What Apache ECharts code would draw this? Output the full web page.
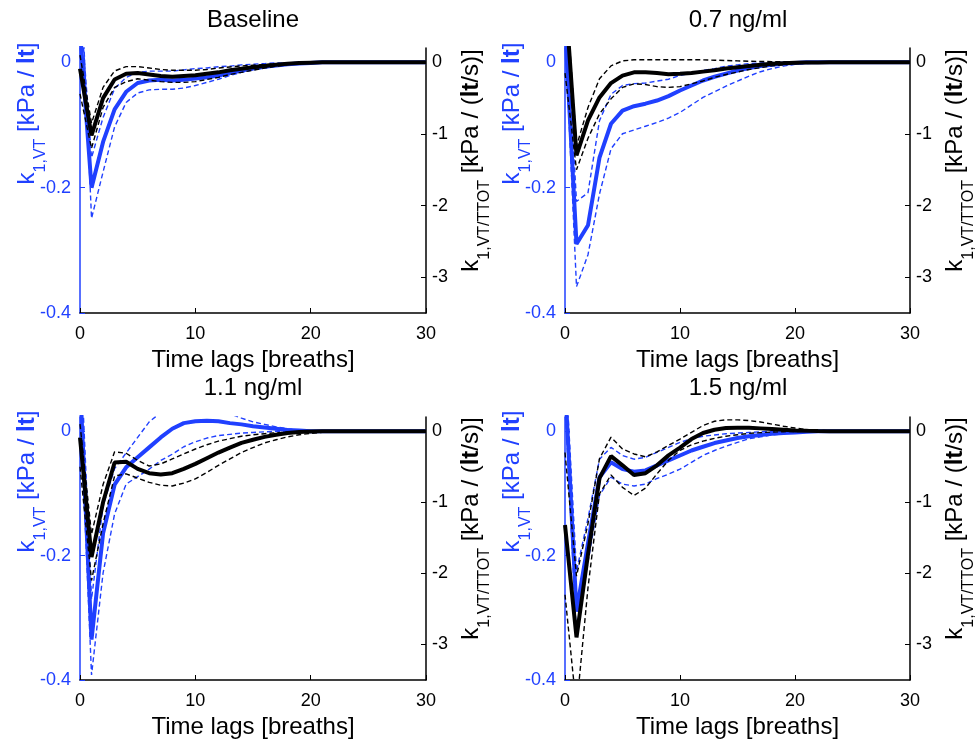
<!DOCTYPE html>
<html>
<head>
<meta charset="utf-8">
<script src="https://cdn.jsdelivr.net/npm/echarts@6/dist/echarts.min.js"></script>
<style>
html,body{margin:0;padding:0;background:#fff;}
#chart{width:978px;height:743px;}
</style>
</head>
<body>
<div id="chart"></div>
<script>
// ---------------- data ----------------
const titles = ['Baseline', '0.7 ng/ml', '1.1 ng/ml', '1.5 ng/ml'];
const lags = [0,1,2,3,4,5,6,7,8,9,10,11,12,13,14,15,16,17,18,19,20,21,22,23,24,25,26,27,28,29,30];
const xTicks = [0, 10, 20, 30];
const leftTicks = [-0.4, -0.2, 0];
const rightTicks = [-3, -2, -1, 0];

// Baseline — k1,VT (left axis, blue)
const baseBlue   = [0.05,-0.200,-0.127,-0.075,-0.047,-0.033,-0.029,-0.028,-0.029,-0.028,-0.026,-0.024,-0.021,-0.017,-0.013,-0.010,-0.007,-0.005,-0.003,-0.002,-0.001,0,0,0,0,0,0,0,0,0,0];
const baseBlueHi = [0.10,-0.152,-0.088,-0.042,-0.024,-0.016,-0.014,-0.014,-0.014,-0.012,-0.010,-0.009,-0.007,-0.006,-0.004,-0.003,-0.002,-0.001,-0.001,0,0,0,0,0,0,0,0,0,0,0,0];
const baseBlueLo = [0.17,-0.249,-0.175,-0.103,-0.064,-0.049,-0.044,-0.043,-0.043,-0.041,-0.037,-0.032,-0.027,-0.021,-0.016,-0.012,-0.009,-0.006,-0.004,-0.002,-0.001,0,0,0,0,0,0,0,0,0,0];
// Baseline — k1,VT/TTOT (right axis, black)
const baseBlack   = [-0.09,-1.02,-0.50,-0.24,-0.16,-0.15,-0.17,-0.19,-0.20,-0.19,-0.18,-0.16,-0.14,-0.11,-0.09,-0.07,-0.05,-0.035,-0.02,-0.01,-0.005,0,0,0,0,0,0,0,0,0,0];
const baseBlackHi = [0.10,-0.85,-0.35,-0.12,-0.06,-0.06,-0.08,-0.10,-0.11,-0.11,-0.11,-0.10,-0.08,-0.065,-0.05,-0.04,-0.03,-0.02,-0.01,-0.005,0,0,0,0,0,0,0,0,0,0,0];
const baseBlackLo = [-0.44,-1.20,-0.63,-0.35,-0.27,-0.23,-0.25,-0.27,-0.28,-0.28,-0.27,-0.24,-0.21,-0.17,-0.14,-0.11,-0.08,-0.055,-0.03,-0.015,-0.01,-0.005,0,0,0,0,0,0,0,0,0];

// 0.7 ng/ml
const c07Blue   = [0.06,-0.290,-0.260,-0.152,-0.098,-0.077,-0.070,-0.066,-0.061,-0.054,-0.045,-0.037,-0.029,-0.023,-0.018,-0.013,-0.009,-0.006,-0.004,-0.002,-0.001,0,0,0,0,0,0,0,0,0,0];
const c07BlueHi = [0.10,-0.222,-0.208,-0.093,-0.051,-0.037,-0.034,-0.033,-0.030,-0.027,-0.021,-0.017,-0.013,-0.010,-0.006,-0.004,-0.002,-0.001,0,0,0,0,0,0,0,0,0,0,0,0,0];
const c07BlueLo = [0.05,-0.358,-0.307,-0.210,-0.138,-0.114,-0.108,-0.102,-0.096,-0.089,-0.080,-0.068,-0.056,-0.047,-0.038,-0.030,-0.022,-0.015,-0.010,-0.006,-0.003,-0.002,-0.001,0,0,0,0,0,0,0,0];
const c07Black   = [1.0,-1.30,-0.81,-0.49,-0.29,-0.185,-0.14,-0.14,-0.15,-0.165,-0.16,-0.15,-0.13,-0.11,-0.085,-0.07,-0.05,-0.035,-0.02,-0.012,-0.006,-0.003,-0.001,0,0,0,0,0,0,0,0];
const c07BlackHi = [1.2,-1.17,-0.63,-0.23,-0.05,0.02,0.035,0.035,0.035,0.035,0.035,0.035,0.035,0.03,0.025,0.02,0.015,0.012,0.01,0.006,0.003,0.001,0,0,0,0,0,0,0,0,0];
const c07BlackLo = [-0.15,-1.50,-1.06,-0.72,-0.51,-0.35,-0.30,-0.31,-0.34,-0.35,-0.34,-0.30,-0.26,-0.21,-0.17,-0.135,-0.10,-0.075,-0.05,-0.035,-0.02,-0.012,-0.006,-0.003,-0.001,0,0,0,0,0,0];

// 1.1 ng/ml
const c11Blue   = [0.08,-0.335,-0.164,-0.086,-0.058,-0.042,-0.026,-0.010,0.004,0.013,0.016,0.017,0.016,0.013,0.011,0.008,0.006,0.004,0.002,0.001,0,0,0,0,0,0,0,0,0,0,0];
const c11BlueHi = [0.15,-0.270,-0.120,-0.060,-0.035,-0.010,0.015,0.030,0.040,0.045,0.045,0.042,0.036,0.028,0.021,0.015,0.011,0.007,0.004,0.002,0.001,0,0,0,0,0,0,0,0,0,0];
const c11BlueLo = [0.05,-0.392,-0.228,-0.133,-0.085,-0.073,-0.061,-0.047,-0.037,-0.025,-0.017,-0.011,-0.007,-0.005,-0.003,-0.002,-0.001,0,0,0,0,0,0,0,0,0,0,0,0,0,0];
const c11Black   = [-0.09,-1.77,-1.00,-0.44,-0.43,-0.53,-0.59,-0.61,-0.59,-0.53,-0.46,-0.38,-0.30,-0.23,-0.165,-0.12,-0.08,-0.05,-0.025,-0.012,-0.005,-0.002,0,0,0,0,0,0,0,0,0];
const c11BlackHi = [0.10,-1.45,-0.75,-0.29,-0.31,-0.41,-0.49,-0.46,-0.39,-0.32,-0.25,-0.19,-0.14,-0.105,-0.07,-0.05,-0.035,-0.022,-0.012,-0.006,-0.003,0,0,0,0,0,0,0,0,0,0];
const c11BlackLo = [-0.50,-2.10,-1.30,-0.63,-0.60,-0.66,-0.72,-0.76,-0.77,-0.73,-0.67,-0.58,-0.48,-0.39,-0.30,-0.23,-0.165,-0.12,-0.08,-0.05,-0.03,-0.015,-0.007,-0.003,0,0,0,0,0,0,0];

// 1.5 ng/ml
const c15Blue   = [0.08,-0.290,-0.180,-0.074,-0.050,-0.061,-0.065,-0.063,-0.055,-0.047,-0.039,-0.031,-0.025,-0.019,-0.015,-0.011,-0.008,-0.006,-0.004,-0.003,-0.002,-0.001,0,0,0,0,0,0,0,0,0];
const c15BlueHi = [0.12,-0.225,-0.140,-0.045,-0.026,-0.039,-0.045,-0.042,-0.034,-0.026,-0.018,-0.012,-0.008,-0.006,-0.004,-0.003,-0.002,-0.001,0,0,0,0,0,0,0,0,0,0,0,0,0];
const c15BlueLo = [0.05,-0.330,-0.210,-0.103,-0.074,-0.085,-0.088,-0.085,-0.076,-0.069,-0.061,-0.050,-0.039,-0.031,-0.024,-0.018,-0.012,-0.009,-0.006,-0.004,-0.002,-0.001,0,0,0,0,0,0,0,0,0];
const c15Black   = [-1.32,-2.90,-1.73,-0.66,-0.35,-0.48,-0.615,-0.59,-0.48,-0.34,-0.23,-0.11,-0.025,0.02,0.045,0.05,0.05,0.04,0.03,0.02,0.01,0.005,0.002,0,0,0,0,0,0,0,0];
const c15BlackHi = [-0.30,-2.04,-1.30,-0.385,-0.083,-0.25,-0.32,-0.36,-0.29,-0.20,-0.11,-0.015,0.08,0.14,0.16,0.16,0.15,0.13,0.10,0.07,0.045,0.025,0.012,0.005,0.002,0,0,0,0,0,0];
const c15BlackLo = [-2.30,-3.90,-2.20,-0.88,-0.615,-0.79,-0.905,-0.80,-0.60,-0.41,-0.27,-0.19,-0.14,-0.10,-0.07,-0.05,-0.03,-0.02,-0.012,-0.007,-0.004,-0.002,0,0,0,0,0,0,0,0,0];

// ---------------- layout / style ----------------
const BLUE = '#2040ff';
const FONT = '"Liberation Sans", Arial, Helvetica, sans-serif';
const LEFT_MIN = -0.4, RIGHT_MIN = -3.5, RIGHT_MAX = 0.2;
const LEFT_MAX = LEFT_MIN * RIGHT_MAX / RIGHT_MIN; // align zeros of both axes

const panelData = [
  {blue: baseBlue, blueHi: baseBlueHi, blueLo: baseBlueLo, black: baseBlack, blackHi: baseBlackHi, blackLo: baseBlackLo},
  {blue: c07Blue, blueHi: c07BlueHi, blueLo: c07BlueLo, black: c07Black, blackHi: c07BlackHi, blackLo: c07BlackLo},
  {blue: c11Blue, blueHi: c11BlueHi, blueLo: c11BlueLo, black: c11Black, blackHi: c11BlackHi, blackLo: c11BlackLo},
  {blue: c15Blue, blueHi: c15BlueHi, blueLo: c15BlueLo, black: c15Black, blackHi: c15BlackHi, blackLo: c15BlackLo}
];

const gridPos = [
  {left: 80, top: 48, width: 346, height: 265},
  {left: 565, top: 48, width: 346, height: 265},
  {left: 80, top: 417, width: 346, height: 263},
  {left: 565, top: 417, width: 346, height: 263}
];
const titleTop = [8, 8, 376, 376];

function richFor(color) {
  return {
    k: {fontSize: 24, color: color, fontFamily: FONT, verticalAlign: 'top'},
    m: {fontSize: 24, color: color, fontFamily: FONT, verticalAlign: 'top'},
    b: {fontSize: 24, color: color, fontFamily: FONT, fontWeight: 'bold', verticalAlign: 'top'},
    s: {fontSize: 16, color: color, fontFamily: FONT, verticalAlign: 'bottom', padding: [18, 0, 0, 0]}
  };
}

const grid = [], xAxis = [], yAxis = [], series = [], title = [];
gridPos.forEach((g, i) => {
  grid.push(Object.assign({containLabel: false}, g));
  title.push({
    text: titles[i], left: g.left + g.width / 2, top: titleTop[i], textAlign: 'center', padding: 0,
    textStyle: {fontSize: 24, fontWeight: 'normal', color: '#000', fontFamily: FONT}
  });
  xAxis.push({
    type: 'value', gridIndex: i, min: 0, max: 30, interval: 10,
    axisLine: {show: true, onZero: false, lineStyle: {color: '#000', width: 1.5}},
    axisTick: {show: true, inside: true, length: 5, lineStyle: {color: '#000', width: 1}},
    axisLabel: {fontSize: 18, color: '#000', fontFamily: FONT, margin: 12},
    splitLine: {show: false},
    name: 'Time lags [breaths]', nameLocation: 'middle', nameGap: 35,
    nameTextStyle: {fontSize: 24, color: '#000', fontFamily: FONT}
  });
  yAxis.push({
    type: 'value', gridIndex: i, position: 'left', min: LEFT_MIN, max: LEFT_MAX,
    axisLine: {show: true, onZero: false, lineStyle: {color: BLUE, width: 1.5}},
    axisTick: {show: true, inside: true, length: 5, customValues: leftTicks, lineStyle: {color: BLUE}},
    axisLabel: {fontSize: 18, color: BLUE, fontFamily: FONT, margin: 9, customValues: leftTicks},
    splitLine: {show: false},
    name: '{k|k}{s|1,VT}{m| [kPa / }{b|lt}{m|]}',
    nameLocation: 'middle', nameRotate: 90, nameGap: 31, nameMoveOverlap: false,
    nameTextStyle: {padding: [0, 0, 0, 134], rich: richFor(BLUE)}
  });
  yAxis.push({
    type: 'value', gridIndex: i, position: 'right', min: RIGHT_MIN, max: RIGHT_MAX,
    axisLine: {show: true, onZero: false, lineStyle: {color: '#000', width: 1.5}},
    axisTick: {show: true, inside: true, length: 5, customValues: rightTicks, lineStyle: {color: '#000'}},
    axisLabel: {fontSize: 18, color: '#000', fontFamily: FONT, margin: 6, customValues: rightTicks},
    splitLine: {show: false},
    name: '{k|k}{s|1,VT/TTOT}{m| [kPa / (}{b|lt}{m|/s)]}',
    nameLocation: 'middle', nameRotate: 90, nameGap: 33, nameMoveOverlap: false,
    nameTextStyle: {padding: [0, 0, 0, 40], rich: richFor('#000')}
  });
  const d = panelData[i];
  const mk = (arr, yIdx, color, width, dashed) => ({
    type: 'line', xAxisIndex: i, yAxisIndex: yIdx, symbol: 'none', clip: true,
    data: lags.map((x, k) => [x, arr[k]]),
    lineStyle: {color: color, width: width, type: dashed ? [5, 3] : 'solid'},
    emphasis: {disabled: true}, silent: true, z: dashed ? 2 : 3
  });
  series.push(mk(d.blueHi, 2 * i, BLUE, 1.4, true));
  series.push(mk(d.blueLo, 2 * i, BLUE, 1.4, true));
  series.push(mk(d.blue, 2 * i, BLUE, 4, false));
  series.push(Object.assign(mk(d.blackHi, 2 * i + 1, '#000', 1.4, true), {z: 4}));
  series.push(Object.assign(mk(d.blackLo, 2 * i + 1, '#000', 1.4, true), {z: 4}));
  series.push(Object.assign(mk(d.black, 2 * i + 1, '#000', 4, false), {z: 5}));
});

const chart = echarts.init(document.getElementById('chart'), null, {renderer: 'canvas'});
chart.setOption({
  backgroundColor: '#fff',
  animation: false,
  textStyle: {fontFamily: FONT},
  title: title, grid: grid, xAxis: xAxis, yAxis: yAxis, series: series
});
</script>
</body>
</html>
